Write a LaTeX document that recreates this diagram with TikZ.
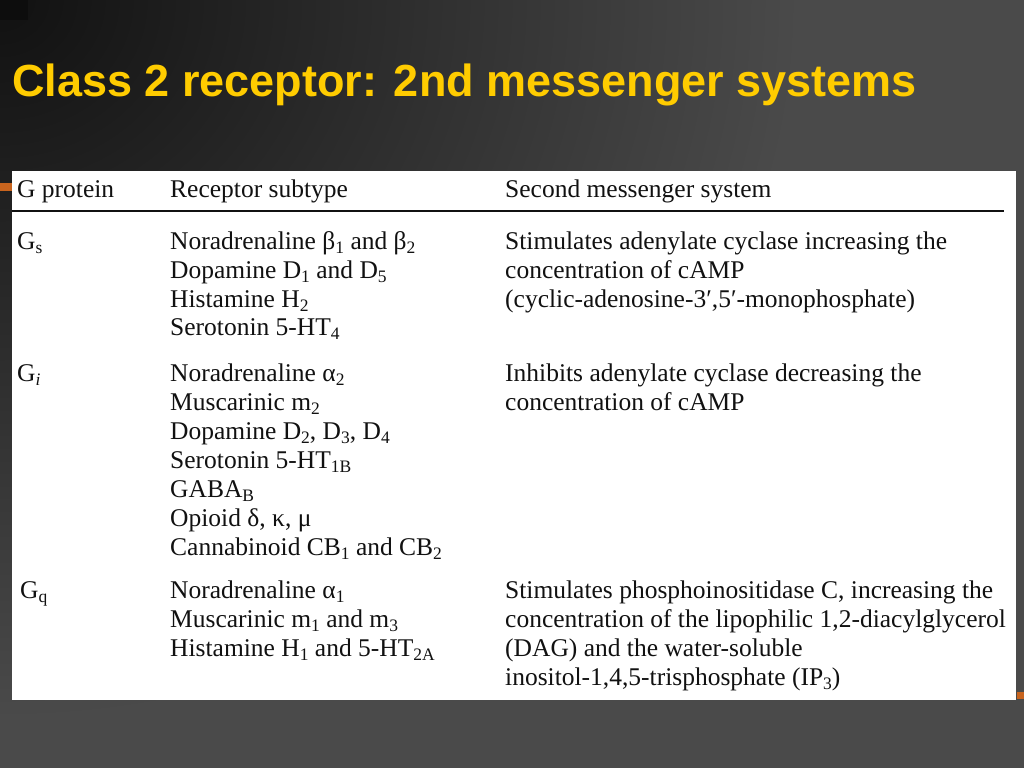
\documentclass[tikz,border=0pt]{standalone}
\usepackage{fontspec}
\setmainfont{Liberation Serif}
\newfontfamily\titlefont{Liberation Sans}
\definecolor{titleyellow}{HTML}{FFCC00}
\definecolor{bgc}{HTML}{4A4A4A}
\definecolor{bgdark}{HTML}{111111}
\definecolor{inkc}{HTML}{111111}
\definecolor{markc}{HTML}{C8641E}
\newcommand{\lsub}[1]{\raisebox{-0.17em}{\fontsize{17.5}{17.5}\selectfont #1}}
\begin{document}
\begin{tikzpicture}[x=1pt,y=-1pt,
  cell/.style={anchor=base west, inner sep=0pt, text=inkc, font=\fontsize{25.5}{29}\selectfont},
  titletext/.style={anchor=base west, inner sep=0pt, text=titleyellow, font=\titlefont\bfseries\fontsize{45}{54}\selectfont},
  rulec/.style={draw=inkc, line width=2pt}
]
\useasboundingbox (0,0) rectangle (1024,768);
% background
\fill[bgc] (0,0) rectangle (1024,768);
\begin{scope}
  \clip (0,0) rectangle (1024,768);
  \shade[inner color=bgdark, outer color=bgc] (0,0) ellipse [x radius=800pt, y radius=720pt];
\end{scope}
\fill[black!95] (0,0) rectangle (28,20);
% title
\node[titletext] (title) at (12,96) {Class 2 receptor: 2nd messenger systems};
% table sheet
\fill[white] (12,171) rectangle (1016,700);
\fill[markc] (0,183) rectangle (12,191);
\fill[markc] (1017,692) rectangle (1024,699);
% header
\node[cell] (h1) at (17,197) {G protein};
\node[cell] (h2) at (170,197) {Receptor subtype};
\node[cell] (h3) at (505,197) {Second messenger system};
\coordinate (rl) at (12,211);
\coordinate (rr) at (1004,211);
\draw[rulec] (rl) -- (rr);
% Gs
\node[cell] (gs) at (17,249) {G\lsub{s}};
\node[cell] (gs1) at (170,249) {Noradrenaline β\lsub{1} and β\lsub{2}};
\node[cell] (gs2) at (170,278) {Dopamine D\lsub{1} and D\lsub{5}};
\node[cell] (gs3) at (170,307) {Histamine H\lsub{2}};
\node[cell] (gs4) at (170,335) {Serotonin 5-HT\lsub{4}};
\node[cell] (ms1) at (505,249) {Stimulates adenylate cyclase increasing the};
\node[cell] (ms2) at (505,278) {concentration of cAMP};
\node[cell] (ms3) at (505,307) {(cyclic-adenosine-3′,5′-monophosphate)};
% Gi
\node[cell] (gi) at (17,381) {G\lsub{\itshape i}};
\node[cell] (gi1) at (170,381) {Noradrenaline α\lsub{2}};
\node[cell] (gi2) at (170,410) {Muscarinic m\lsub{2}};
\node[cell] (gi3) at (170,439) {Dopamine D\lsub{2}, D\lsub{3}, D\lsub{4}};
\node[cell] (gi4) at (170,468) {Serotonin 5-HT\lsub{1B}};
\node[cell] (gi5) at (170,497) {GABA\lsub{B}};
\node[cell] (gi6) at (170,526) {Opioid δ, κ, μ};
\node[cell] (gi7) at (170,555) {Cannabinoid CB\lsub{1} and CB\lsub{2}};
\node[cell] (mi1) at (505,381) {Inhibits adenylate cyclase decreasing the};
\node[cell] (mi2) at (505,410) {concentration of cAMP};
% Gq
\node[cell] (gq) at (20,598) {G\lsub{q}};
\node[cell] (gq1) at (170,598) {Noradrenaline α\lsub{1}};
\node[cell] (gq2) at (170,627) {Muscarinic m\lsub{1} and m\lsub{3}};
\node[cell] (gq3) at (170,656) {Histamine H\lsub{1} and 5-HT\lsub{2A}};
\node[cell] (mq1) at (505,598) {Stimulates phosphoinositidase C, increasing the};
\node[cell] (mq2) at (505,627) {concentration of the lipophilic 1,2-diacylglycerol};
\node[cell] (mq3) at (505,656) {(DAG) and the water-soluble};
\node[cell] (mq4) at (505,685) {inositol-1,4,5-trisphosphate (IP\lsub{3})};
\end{tikzpicture}
\end{document}
